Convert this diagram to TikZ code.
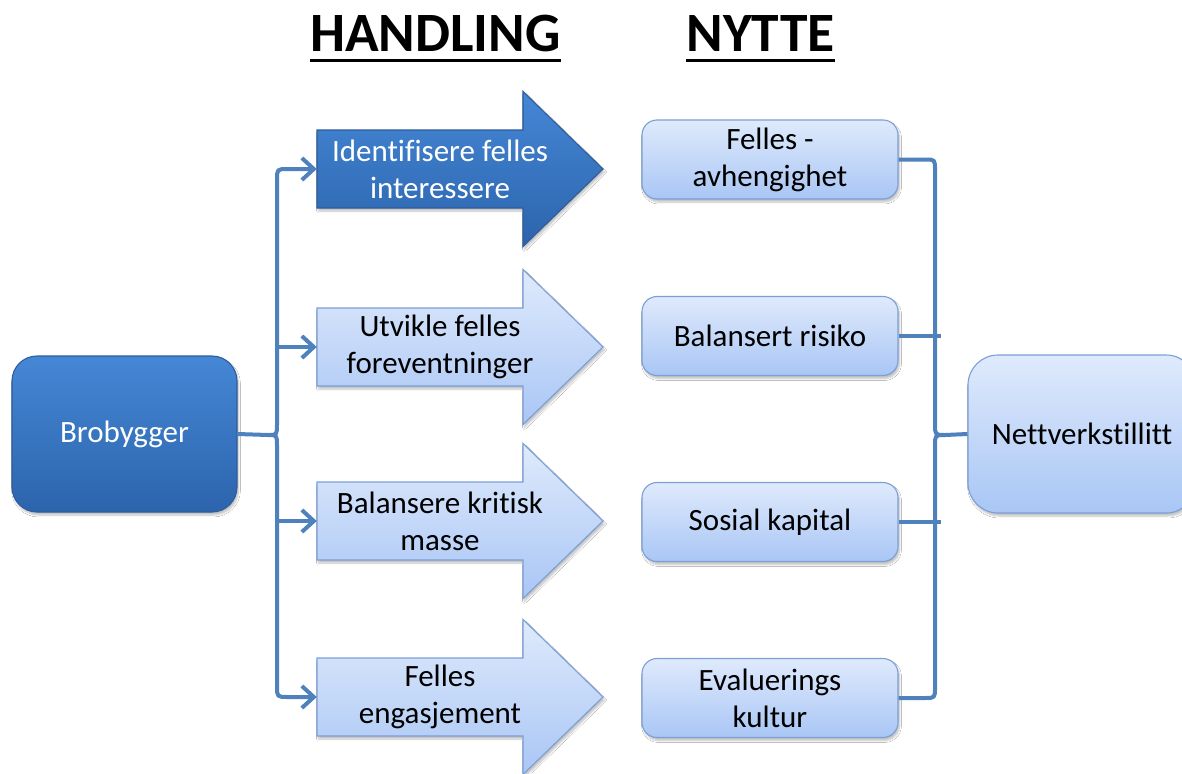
\documentclass[tikz,border=0pt]{standalone}
\usepackage{fontspec}
\setmainfont{Carlito}[Ligatures={NoCommon}]
\usetikzlibrary{arrows.meta,shadows.blur}
\definecolor{linkblue}{HTML}{4F81BD}
\definecolor{lighttop}{HTML}{DFEAFC}
\definecolor{lightbot}{HTML}{A9C6F5}
\definecolor{lightedge}{HTML}{7C9FD6}
\definecolor{darktop}{HTML}{4587D6}
\definecolor{darkbot}{HTML}{2C64AC}
\definecolor{darkedge}{HTML}{2E5C9C}
\tikzset{
  connector/.style={draw=linkblue, line width=4pt, line join=round},
  arrowend/.style={-{Straight Barb[length=12pt,width=22pt]}},
  lightfill/.style={top color=lighttop, bottom color=lightbot, draw=lightedge, line width=1.1pt},
  darkfill/.style={top color=darktop, bottom color=darkbot, draw=darkedge, line width=1.1pt},
  softshadow/.style={blur shadow={shadow xshift=1.5pt, shadow yshift=-3pt, shadow opacity=25, shadow blur steps=6}},
  txt/.style={font=\fontsize{31}{37}\selectfont, align=center, inner sep=0pt},
  heading/.style={font=\fontsize{55.5}{62}\selectfont\bfseries, inner sep=0pt},
  roundbox/.style={txt, rounded corners=#1, softshadow},
}
% block arrow: name, centre y, fill style, text colour, text
\newcommand\blockarrow[5]{%
  \path[#3, softshadow] (317,#2-39) -- (523,#2-39) -- (523,#2-77.5) -- (603,#2)
    -- (523,#2+77.5) -- (523,#2+39) -- (317,#2+39) -- cycle;
  \node[txt, text=#4, minimum width=246, minimum height=78] (#1) at (440,#2) {#5};
}
\begin{document}
\begin{tikzpicture}[x=1pt, y=-1pt]
\useasboundingbox (0,0) rectangle (1182,773);
\fill[white] (0,0) rectangle (1182,773);
\clip (0,0) rectangle (1182,773);

% column headings
\node[heading, anchor=base] (h1) at (435.5,52) {HANDLING};
\node[heading, anchor=base] (h2) at (760.5,52) {NYTTE};
\foreach \h in {h1,h2}
  \draw[line width=3.5pt] ([yshift=-8.5pt]\h.base west) -- ([yshift=-8.5pt]\h.base east);

% source box
\node[roundbox=25pt, darkfill, text=white, minimum width=225, minimum height=156] (bro) at (124.5,434) {Brobygger};

% actions
\blockarrow{a1}{169}{darkfill}{white}{Identifisere felles\\interessere}
\blockarrow{a2}{347}{lightfill}{black}{Utvikle felles\\foreventninger}
\blockarrow{a3}{521}{lightfill}{black}{Balansere kritisk\\masse}
\blockarrow{a4}{697}{lightfill}{black}{Felles\\engasjement}

% benefits
\node[roundbox=15pt, lightfill, minimum width=256, minimum height=79] (n1) at (770,159.5) {Felles -\\avhengighet};
\node[roundbox=15pt, lightfill, minimum width=256, minimum height=79] (n2) at (770,336) {Balansert risiko};
\node[roundbox=15pt, lightfill, minimum width=256, minimum height=79] (n3) at (770,522) {Sosial kapital};
\node[roundbox=15pt, lightfill, minimum width=256, minimum height=79] (n4) at (770,698) {Evaluerings\\kultur};

% result
\node[roundbox=30pt, lightfill, minimum width=228, minimum height=158] (net) at (1082,434) {Nettverkstillitt};

% left brace with branches
\coordinate (lcusp) at (268,435);
\coordinate (lvert) at (277,435);
\draw[connector] (bro.east) -- (lcusp);
\draw[connector, arrowend] (lcusp) .. controls (277,435) .. (277,424) -- (277,180)
  .. controls (277,169) .. (288,169) -- (a1.west);
\draw[connector, arrowend] (lcusp) .. controls (277,435) .. (277,446) -- (277,686)
  .. controls (277,697) .. (288,697) -- (a4.west);
\draw[connector, arrowend] (a2.west -| lvert) -- (a2.west);
\draw[connector, arrowend] (a3.west -| lvert) -- (a3.west);

% right brace joining the benefits
\coordinate (rcusp) at (945,435);
\draw[connector] (n1.east) -- (925,159.5) .. controls (935,159.5) .. (935,170)
  -- (935,424) .. controls (935,435) .. (rcusp) -- (net.west);
\draw[connector] (n4.east) -- (925,698) .. controls (935,698) .. (935,687)
  -- (935,446) .. controls (935,435) .. (rcusp);
\draw[connector] (n2.east) -- ++(42,0);
\draw[connector] (n3.east) -- ++(42,0);
\end{tikzpicture}
\end{document}
